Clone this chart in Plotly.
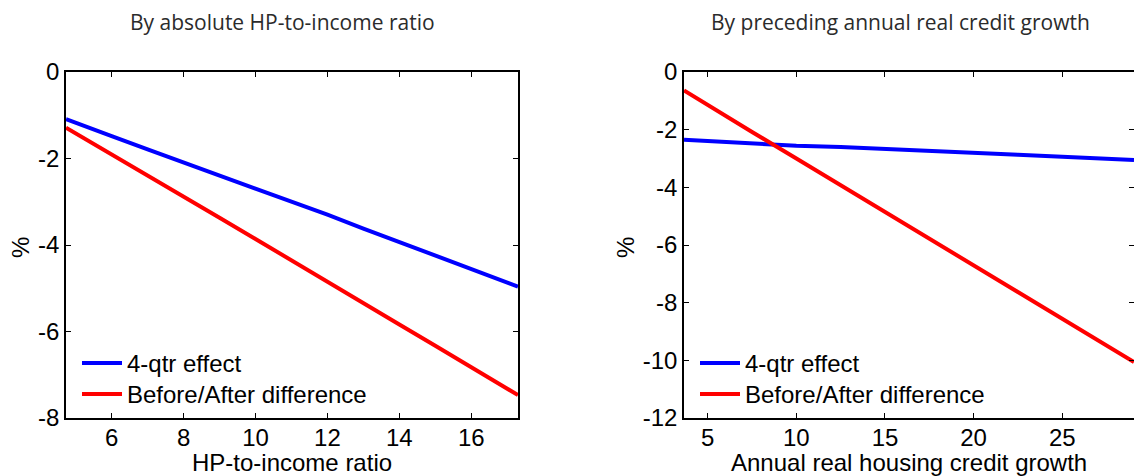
import plotly.graph_objects as go

# ---- data ----
hp_ratio = [4.73, 5, 6, 7, 8, 9, 10, 11, 12, 13, 14, 15, 16, 17, 17.3]
hp_effect4q = [-1.09, -1.17, -1.48, -1.79, -2.09, -2.40, -2.70, -3.00, -3.30,
               -3.62, -3.93, -4.24, -4.55, -4.85, -4.96]
hp_before_after = [-1.29, -1.42, -1.90, -2.38, -2.87, -3.37, -3.86, -4.36, -4.84,
                   -5.35, -5.84, -6.33, -6.82, -7.32, -7.47]

credit_growth = [3.66, 5, 7.5, 10, 12.5, 15, 17.5, 20, 22.5, 25, 27.5, 29.05]
cg_effect4q = [-2.35, -2.40, -2.49, -2.56, -2.60, -2.66, -2.73, -2.80, -2.87,
               -2.94, -3.00, -3.05]
cg_before_after = [-0.64, -1.15, -2.08, -3.00, -3.93, -4.85, -5.78, -6.70, -7.63,
                   -8.56, -9.48, -10.06]

series_names = ["4-qtr effect", "Before/After difference"]
series_colors = ["#0000ff", "#ff0000"]

left_xticks = [6, 8, 10, 12, 14, 16]
right_xticks = [5, 10, 15, 20, 25]
left_yticks = [0, -2, -4, -6, -8]
left_ylabels = ["0", "-2", "-4", "-6", "-8"]
right_yticks = [0, -2, -4, -6, -8, -10, -12]
right_ylabels = ["0", "-2", "-4", "-6", "-8", "-10", "-12"]

titles = ["By absolute HP-to-income ratio", "By preceding annual real credit growth"]
xtitles = ["HP-to-income ratio", "Annual real housing credit growth"]

W, H = 1134, 476
TICKFONT = dict(family="Liberation Sans, Arial, sans-serif", size=24, color="black")

def px_x(p):
    return p / W

def px_y(p):
    return 1 - p / H

fig = go.Figure()

legend_ids = [["legend", "legend2"], ["legend3", "legend4"]]
for i, (x, ys) in enumerate([(hp_ratio, [hp_effect4q, hp_before_after]),
                             (credit_growth, [cg_effect4q, cg_before_after])]):
    for j, (name, y, c) in enumerate(zip(series_names, ys, series_colors)):
        fig.add_trace(go.Scatter(
            x=x, y=y, mode="lines", name=name,
            line=dict(color=c, width=4),
            xaxis="x" if i == 0 else "x2",
            yaxis="y" if i == 0 else "y2",
            legend=legend_ids[i][j],
        ))

axis_common = dict(
    showline=True, linecolor="black", linewidth=1.5, mirror="ticks",
    ticks="inside", ticklen=5, tickwidth=1, tickcolor="black",
    showgrid=False, zeroline=False, tickfont=TICKFONT, automargin=False,
)

def leg(xpx, ypx):
    return dict(x=px_x(xpx), y=px_y(ypx), xanchor="left", yanchor="top",
                bgcolor="rgba(0,0,0,0)", font=TICKFONT, itemwidth=40)

fig.update_layout(
    width=W, height=H,
    margin=dict(l=0, r=0, t=0, b=0, pad=0),
    paper_bgcolor="white", plot_bgcolor="white",
    xaxis=dict(domain=[px_x(66), px_x(518)], range=[4.73, 17.3],
               tickvals=left_xticks, anchor="y", ticklabelstandoff=-3, **axis_common),
    yaxis=dict(domain=[px_y(418), px_y(72)], range=[-8, 0],
               tickvals=left_yticks, ticktext=left_ylabels, anchor="x", **axis_common),
    xaxis2=dict(domain=[px_x(684), px_x(1134)], range=[3.66, 29.05],
                tickvals=right_xticks, anchor="y2", ticklabelstandoff=-3, **axis_common),
    yaxis2=dict(domain=[px_y(418), px_y(72)], range=[-12, 0],
                tickvals=right_yticks, ticktext=right_ylabels, anchor="x2", **axis_common),
    legend=leg(77, 341),
    legend2=leg(77, 372),
    legend3=leg(695, 341),
    legend4=leg(695, 372),
    showlegend=True,
)

ann = []
for cx, t in zip([282, 900], titles):
    ann.append(dict(text=t, x=px_x(cx), y=px_y(22), xref="paper", yref="paper",
                    showarrow=False, xanchor="center", yanchor="middle",
                    font=dict(family="Open Sans, Noto Sans, sans-serif", size=21,
                              color="#2b2b2b")))
for cx, t in zip([292, 909], xtitles):
    ann.append(dict(text=t, x=px_x(cx), y=px_y(462), xref="paper", yref="paper",
                    showarrow=False, xanchor="center", yanchor="middle",
                    font=TICKFONT))
for cx in [20, 625]:
    ann.append(dict(text="%", x=px_x(cx), y=px_y(248), xref="paper", yref="paper",
                    showarrow=False, xanchor="center", yanchor="middle",
                    textangle=-90, font=TICKFONT))
fig.update_layout(annotations=ann)

fig.write_html("out.html",
               config={"displayModeBar": False},
               post_script="document.body.style.margin='0px';"
                           "document.body.style.overflow='hidden';")
